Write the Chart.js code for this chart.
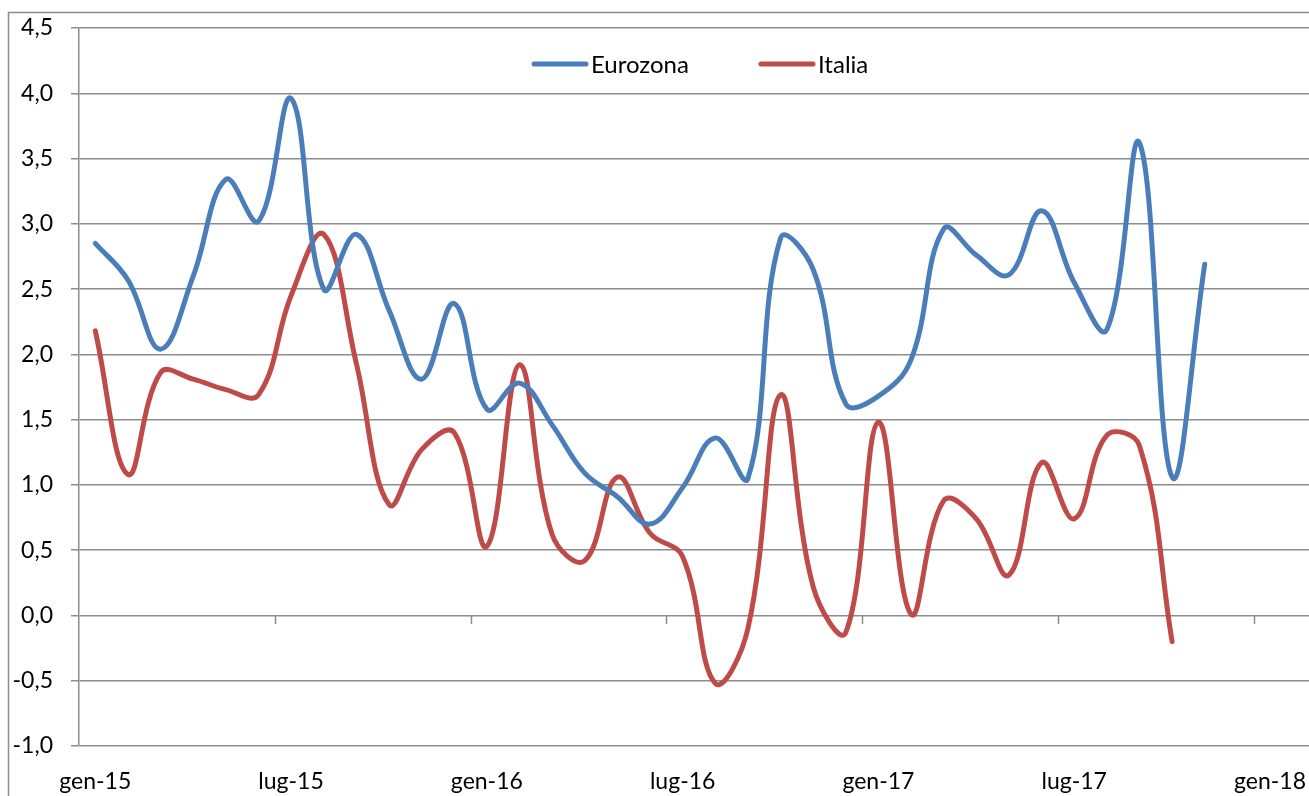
<!DOCTYPE html>
<html>
<head>
<meta charset="utf-8">
<script src="https://cdn.jsdelivr.net/npm/chart.js@4.4.1/dist/chart.umd.min.js"></script>
<style>
  html, body { margin: 0; padding: 0; background: #ffffff; }
  #wrap { position: relative; width: 1309px; height: 796px; }
  canvas { display: block; }
</style>
</head>
<body>
<div id="wrap"><canvas id="c" width="1309" height="796"></canvas></div>
<script>
// ---- data (monthly, gen-15 .. nov-17) ----
const months = [
  'gen-15','feb-15','mar-15','apr-15','mag-15','giu-15','lug-15','ago-15','set-15','ott-15','nov-15','dic-15',
  'gen-16','feb-16','mar-16','apr-16','mag-16','giu-16','lug-16','ago-16','set-16','ott-16','nov-16','dic-16',
  'gen-17','feb-17','mar-17','apr-17','mag-17','giu-17','lug-17','ago-17','set-17','ott-17','nov-17'
];
const seriesNames = ['Eurozona', 'Italia'];
const eurozona = [
  2.85, 2.57, 2.04, 2.60, 3.34, 3.02, 3.96, 2.50, 2.92, 2.34, 1.81, 2.39,
  1.58, 1.78, 1.46, 1.09, 0.91, 0.70, 0.98, 1.36, 1.05, 2.89, 2.65, 1.62,
  1.68, 1.96, 2.96, 2.76, 2.61, 3.10, 2.55, 2.19, 3.62, 1.06, 2.69
];
const italia = [
  2.18, 1.08, 1.86, 1.81, 1.73, 1.69, 2.45, 2.92, 1.93, 0.85, 1.27, 1.40,
  0.53, 1.92, 0.62, 0.42, 1.06, 0.63, 0.45, -0.52, -0.10, 1.69, 0.22, -0.13,
  1.48, 0.01, 0.88, 0.74, 0.31, 1.17, 0.74, 1.38, 1.30, -0.20
];
const xTickLabels = ['gen-15','lug-15','gen-16','lug-16','gen-17','lug-17','gen-18'];
const yMin = -1.0, yMax = 4.5, yStep = 0.5;

// ---- styling ----
const FONT = 'Lato, "Open Sans", "Liberation Sans", sans-serif';
const GRID = '#8c8c8c';
const colors = ['#4a7ebb', '#be4b48'];
const legendStarts = [532, 759];

// month index -> centre of the month on a date-like axis
const toPoints = arr => arr.map((v, i) => ({ x: i + 0.5, y: v }));

const frame = {
  id: 'frame',
  beforeDraw(chart) {
    const ctx = chart.ctx;
    ctx.save();
    ctx.strokeStyle = GRID;
    ctx.lineWidth = 1.5;
    ctx.beginPath();
    ctx.moveTo(8.5, 800);
    ctx.lineTo(8.5, 12.5);
    ctx.lineTo(1320, 12.5);
    ctx.stroke();
    ctx.restore();
  }
};

const zeroTicks = {
  id: 'zeroTicks',
  beforeDatasetsDraw(chart) {
    const xs = chart.scales.x, ys = chart.scales.y;
    const y0 = Math.round(ys.getPixelForValue(0));
    const ctx = chart.ctx;
    ctx.save();
    ctx.strokeStyle = GRID;
    ctx.lineWidth = 1.5;
    ctx.beginPath();
    for (let k = 1; k < xTickLabels.length; k++) {
      const px = Math.round(xs.getPixelForValue(k * 6)) + 0.5;
      ctx.moveTo(px, y0);
      ctx.lineTo(px, y0 + 9);
    }
    ctx.stroke();
    ctx.restore();
  }
};

const innerLegend = {
  id: 'innerLegend',
  afterDraw(chart) {
    const ctx = chart.ctx;
    ctx.save();
    ctx.font = '24px ' + FONT;
    ctx.textBaseline = 'middle';
    ctx.textAlign = 'left';
    const y = 64;
    chart.data.datasets.forEach((ds, i) => {
      const x = legendStarts[i];
      ctx.strokeStyle = ds.borderColor;
      ctx.lineWidth = 5;
      ctx.lineCap = 'round';
      ctx.beginPath();
      ctx.moveTo(x + 2, y);
      ctx.lineTo(x + 54, y);
      ctx.stroke();
      ctx.fillStyle = '#000000';
      ctx.fillText(ds.label, x + 59, y + 1);
    });
    ctx.restore();
  }
};

new Chart(document.getElementById('c'), {
  type: 'line',
  data: {
    datasets: [
      { label: seriesNames[0], data: toPoints(eurozona), borderColor: colors[0], backgroundColor: colors[0] },
      { label: seriesNames[1], data: toPoints(italia), borderColor: colors[1], backgroundColor: colors[1] }
    ]
  },
  options: {
    responsive: false,
    animation: false,
    layout: { padding: { top: 28, left: 0, right: 0, bottom: 0 } },
    elements: {
      line: { borderWidth: 5, tension: 0.4, fill: false, borderCapStyle: 'round', borderJoinStyle: 'round' },
      point: { radius: 0, hoverRadius: 0 }
    },
    plugins: {
      legend: { display: false },
      tooltip: { enabled: false }
    },
    scales: {
      x: {
        type: 'linear',
        min: 0,
        max: (1309 - 79) / 32.63,
        grid: { display: false, drawTicks: false },
        border: { display: false },
        ticks: {
          stepSize: 6,
          includeBounds: false,
          autoSkip: false,
          maxRotation: 0,
          labelOffset: 16.3,
          padding: 22,
          color: '#000000',
          font: { family: FONT, size: 23 },
          callback: (v) => (v % 6 === 0 ? xTickLabels[v / 6] : '')
        },
        afterFit(scale) { scale.height = 50; scale.paddingLeft = 0; scale.paddingRight = 0; }
      },
      y: {
        min: yMin,
        max: yMax,
        grid: { color: GRID, lineWidth: 1.5, tickLength: 8, drawTicks: true },
        border: { display: true, color: GRID, width: 1.5 },
        ticks: {
          stepSize: yStep,
          padding: 18,
          color: '#000000',
          font: { family: FONT, size: 23 },
          callback: (v) => Number(v).toFixed(1).replace('.', ',')
        },
        afterFit(scale) { scale.width = 79; scale.paddingTop = 0; scale.paddingBottom = 0; }
      }
    }
  },
  plugins: [frame, zeroTicks, innerLegend]
});
</script>
</body>
</html>
